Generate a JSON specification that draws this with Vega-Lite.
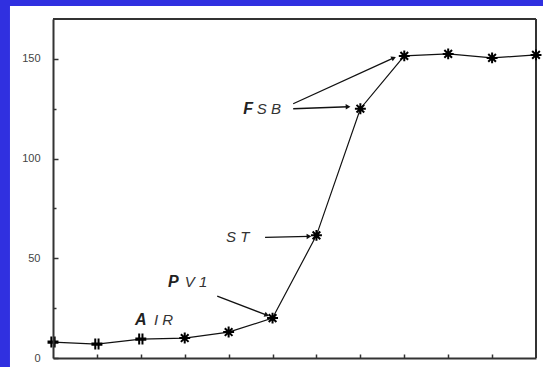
{
  "$schema": "https://vega.github.io/schema/vega-lite/v6.json",
  "width": 483,
  "height": 339,
  "autosize": {"type": "none"},
  "padding": {"left": 53, "top": 19, "right": 7, "bottom": 9},
  "background": "white",
  "config": {
    "view": {"stroke": null},
    "font": "Liberation Sans",
    "axis": {"grid": false, "title": null}
  },
  "datasets": {
    "series": [
      {"step": 0, "value": 8, "marker": "cross"},
      {"step": 1, "value": 7, "marker": "cross"},
      {"step": 2, "value": 9.5, "marker": "cross"},
      {"step": 3, "value": 10, "marker": "star"},
      {"step": 4, "value": 13, "marker": "star"},
      {"step": 5, "value": 20, "marker": "star"},
      {"step": 6, "value": 61.5, "marker": "star"},
      {"step": 7, "value": 125, "marker": "star"},
      {"step": 8, "value": 151.5, "marker": "star"},
      {"step": 9, "value": 152.5, "marker": "star"},
      {"step": 10, "value": 150.5, "marker": "star"},
      {"step": 11, "value": 152, "marker": "star"}
    ],
    "labels": [
      {"lead": "A", "lead_x": 1.87, "rest": "I R", "rest_x": 2.3, "y": 19},
      {"lead": "P", "lead_x": 2.62, "rest": "V 1", "rest_x": 3.0, "y": 38},
      {"lead": "", "lead_x": 3.94, "rest": "S T", "rest_x": 3.94, "y": 60.5},
      {"lead": "F", "lead_x": 4.33, "rest": "S B", "rest_x": 4.64, "y": 125}
    ],
    "arrows": [
      {"from_x": 3.74, "from_y": 31, "to_x": 4.87, "to_y": 21.5},
      {"from_x": 4.83, "from_y": 60.5, "to_x": 5.83, "to_y": 61},
      {"from_x": 5.47, "from_y": 125, "to_x": 6.72, "to_y": 126},
      {"from_x": 5.47, "from_y": 127.5, "to_x": 7.76, "to_y": 150.5}
    ],
    "frame": [
      {"band": "left", "x0": -1.21, "x1": -0.98, "y0": -4.6, "y1": 179.6},
      {"band": "top", "x0": -1.21, "x1": 11.16, "y0": 176.5, "y1": 179.6}
    ],
    "one": [{}]
  },
  "layer": [
    {
      "description": "blue border bands along the left and top of the page",
      "data": {"name": "frame"},
      "mark": {"type": "rect", "fill": "#3030e0", "clip": false},
      "encoding": {
        "x": {"field": "x0", "type": "quantitative", "scale": {"domain": [0, 11], "nice": false, "zero": false},
          "axis": {"zindex": 2, "values": [1, 2, 3, 4, 5, 6, 7, 8, 9, 10], "labels": false, "tickSize": -4, "tickColor": "#333", "tickWidth": 1.5, "domainColor": "#333", "domainWidth": 2}},
        "x2": {"field": "x1"},
        "y": {"field": "y0", "type": "quantitative", "scale": {"domain": [0, 170], "nice": false, "zero": false},
          "axis": {"zindex": 2, "values": [0, 25, 50, 75, 100, 125, 150], "labelExpr": "datum.value % 50 === 0 ? datum.label : ''",
            "tickSize": {"condition": {"test": "datum.value % 50 === 0", "value": -5}, "value": -3},
            "tickColor": "#333", "tickWidth": 1.5, "domainColor": "#333", "domainWidth": 2,
            "labelFont": "Liberation Sans", "labelFontSize": 11, "labelColor": "#444", "labelPadding": 18}},
        "y2": {"field": "y1"}
      }
    },
    {
      "description": "top edge of the frame",
      "data": {"name": "one"},
      "mark": {"type": "rule", "color": "#333", "strokeWidth": 2},
      "encoding": {"y": {"datum": 170, "type": "quantitative"}}
    },
    {
      "description": "right edge of the frame",
      "data": {"name": "one"},
      "mark": {"type": "rule", "color": "#333", "strokeWidth": 2},
      "encoding": {"x": {"datum": 11, "type": "quantitative"}}
    },
    {
      "data": {"name": "series"},
      "mark": {"type": "line", "color": "#111", "strokeWidth": 1.2},
      "encoding": {
        "x": {"field": "step", "type": "quantitative"},
        "y": {"field": "value", "type": "quantitative"}
      }
    },
    {
      "data": {"name": "series"},
      "mark": {"type": "point", "filled": false, "stroke": "#000", "strokeWidth": 2, "size": 120, "opacity": 1},
      "encoding": {
        "x": {"field": "step", "type": "quantitative"},
        "y": {"field": "value", "type": "quantitative"},
        "shape": {"field": "marker", "type": "nominal", "legend": null,
          "scale": {"domain": ["cross", "star"],
            "range": ["M-0.3,-1V1M0.3,-1V1M-1,-0.12H1M-1,0.12H1", "M-1,0H1M0,-1V1M-0.7,-0.7L0.7,0.7M-0.7,0.7L0.7,-0.7"]}}
      }
    },
    {
      "data": {"name": "arrows"},
      "mark": {"type": "rule", "color": "#111", "strokeWidth": 1.3},
      "encoding": {
        "x": {"field": "from_x", "type": "quantitative"},
        "x2": {"field": "to_x"},
        "y": {"field": "from_y", "type": "quantitative"},
        "y2": {"field": "to_y"}
      }
    },
    {
      "data": {"name": "arrows"},
      "transform": [
        {"calculate": "atan2(-(datum.to_y - datum.from_y) * 339 / 170, (datum.to_x - datum.from_x) * 483 / 11) * 180 / PI", "as": "heading"}
      ],
      "mark": {"type": "point", "shape": "triangle-right", "filled": true, "color": "#111", "size": 30, "opacity": 1},
      "encoding": {
        "x": {"field": "to_x", "type": "quantitative"},
        "y": {"field": "to_y", "type": "quantitative"},
        "angle": {"field": "heading", "type": "quantitative", "scale": null}
      }
    },
    {
      "data": {"name": "labels"},
      "mark": {"type": "text", "align": "left", "baseline": "middle", "font": "Liberation Sans", "fontSize": 16, "fontStyle": "italic", "fontWeight": "bold", "color": "#222"},
      "encoding": {
        "x": {"field": "lead_x", "type": "quantitative"},
        "y": {"field": "y", "type": "quantitative"},
        "text": {"field": "lead"}
      }
    },
    {
      "data": {"name": "labels"},
      "mark": {"type": "text", "align": "left", "baseline": "middle", "font": "Liberation Sans", "fontSize": 15, "fontStyle": "italic", "color": "#333"},
      "encoding": {
        "x": {"field": "rest_x", "type": "quantitative"},
        "y": {"field": "y", "type": "quantitative"},
        "text": {"field": "rest"}
      }
    }
  ]
}
